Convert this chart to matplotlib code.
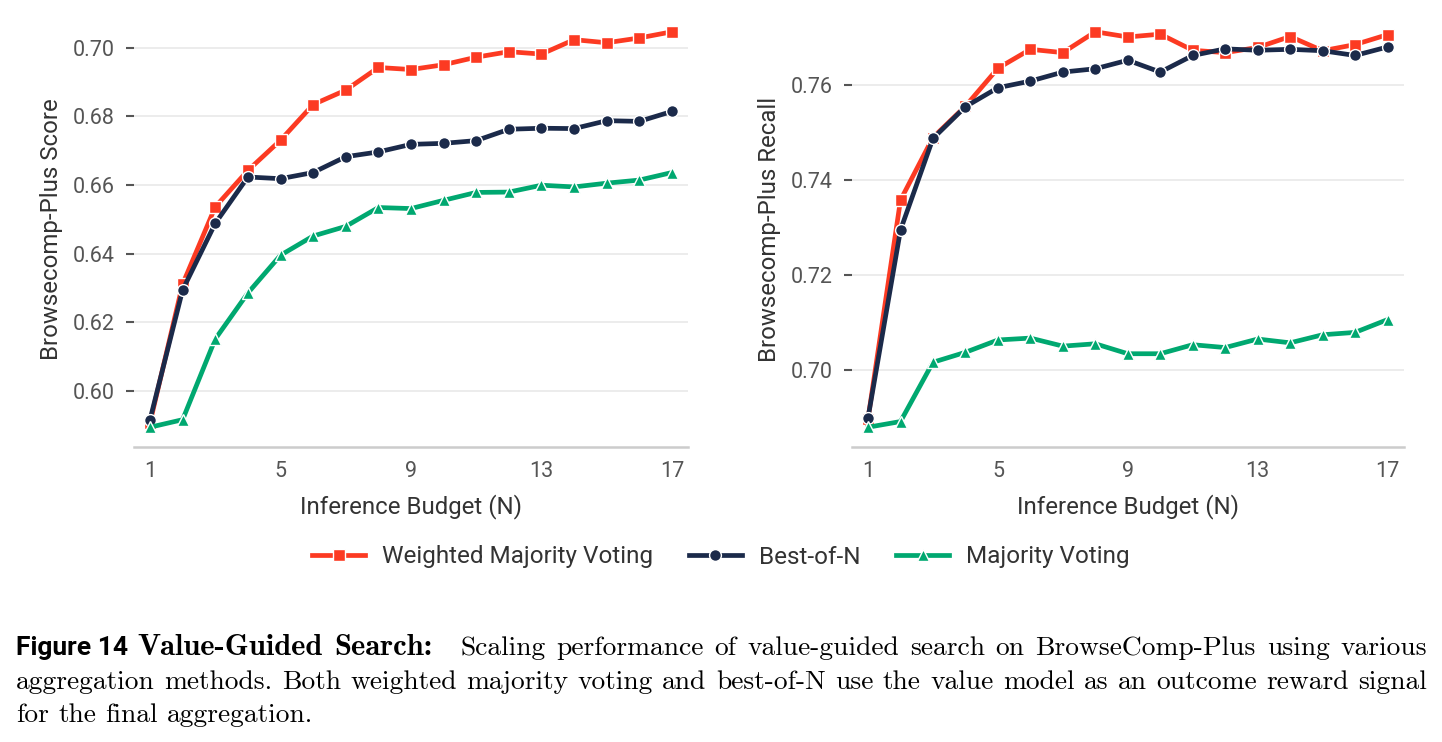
import matplotlib
matplotlib.use('Agg')
import matplotlib.pyplot as plt
from matplotlib.ticker import FormatStrFormatter
from matplotlib.font_manager import FontProperties

# Inference budget
budget = list(range(1, 18))

# Left panel: Browsecomp-Plus Score
score_weighted = [0.5907, 0.6311, 0.6536, 0.6642, 0.6730, 0.6834, 0.6876, 0.6942, 0.6936,
                  0.6950, 0.6972, 0.6988, 0.6981, 0.7023, 0.7014, 0.7028, 0.7046]
score_best = [0.5916, 0.6294, 0.6488, 0.6623, 0.6618, 0.6636, 0.6682, 0.6696, 0.6718,
              0.6721, 0.6729, 0.6762, 0.6765, 0.6764, 0.6787, 0.6785, 0.6814]
score_majority = [0.5894, 0.5916, 0.6151, 0.6285, 0.6395, 0.6451, 0.6479, 0.6534, 0.6531,
                  0.6555, 0.6578, 0.6579, 0.6599, 0.6594, 0.6605, 0.6614, 0.6636]

# Right panel: Browsecomp-Plus Recall
recall_weighted = [0.6897, 0.7358, 0.7490, 0.7556, 0.7636, 0.7676, 0.7669, 0.7713, 0.7702,
                   0.7708, 0.7674, 0.7669, 0.7680, 0.7703, 0.7673, 0.7686, 0.7707]
recall_best = [0.6899, 0.7295, 0.7488, 0.7555, 0.7595, 0.7609, 0.7628, 0.7635, 0.7653,
               0.7628, 0.7663, 0.7677, 0.7674, 0.7676, 0.7673, 0.7663, 0.7681]
recall_majority = [0.6879, 0.6891, 0.7016, 0.7037, 0.7063, 0.7067, 0.7050, 0.7055, 0.7034,
                   0.7034, 0.7053, 0.7047, 0.7065, 0.7057, 0.7074, 0.7079, 0.7106]

labels = ['Weighted Majority Voting', 'Best-of-N', 'Majority Voting']
colors = ['#fc3a22', '#1b2a4a', '#00a870']
markers = ['s', 'o', '^']
msizes = [9, 8.5, 8.5]

W, H = 1442, 742
plt.rcParams['font.family'] = ['Roboto', 'DejaVu Sans']

fig = plt.figure(figsize=(W / 100, H / 100), dpi=100)
ax1 = fig.add_axes([133.7 / W, 1 - 447 / H, 554.6 / W, 435 / H])
ax2 = fig.add_axes([851.8 / W, 1 - 447 / H, 552 / W, 435 / H])

panels = [
    (ax1, [score_weighted, score_best, score_majority], 'Browsecomp-Plus Score',
     [0.60, 0.62, 0.64, 0.66, 0.68, 0.70]),
    (ax2, [recall_weighted, recall_best, recall_majority], 'Browsecomp-Plus Recall',
     [0.70, 0.72, 0.74, 0.76]),
]

handles = []
for ax, series, ylabel, yticks in panels:
    lines = {}
    # draw best-of-N first so weighted voting sits on top
    for i in [1, 0, 2]:
        ln, = ax.plot(budget, series[i], color=colors[i], lw=3.4, marker=markers[i],
                      ms=msizes[i], mec='white', mew=1.0, label=labels[i], zorder=3 + i)
        lines[i] = ln
    if not handles:
        handles = [lines[0], lines[1], lines[2]]

    ax.set_xlim(0.5, 17.5)
    ax.set_xticks([1, 5, 9, 13, 17])
    ax.set_yticks(yticks)
    ax.yaxis.set_major_formatter(FormatStrFormatter('%.2f'))
    ax.grid(axis='y', color='#ebebeb', lw=1.3, zorder=0)
    ax.set_axisbelow(True)
    for s in ['top', 'right', 'left']:
        ax.spines[s].set_visible(False)
    ax.spines['bottom'].set_color('#cccccc')
    ax.spines['bottom'].set_linewidth(1.8)
    ax.tick_params(axis='y', length=6, width=1.5, color='#555555', pad=8,
                   labelsize=15.5, labelcolor='#555555')
    ax.tick_params(axis='x', length=0, pad=10, labelsize=15.5, labelcolor='#555555')
    ax.set_xlabel('Inference Budget (N)', fontsize=17.3, color='#333333', labelpad=9)
    ax.set_ylabel(ylabel, fontsize=17.3, color='#333333', labelpad=7)

fig.legend(handles, labels, loc='center', bbox_to_anchor=(0.5, 1 - 557 / H), ncol=3,
           frameon=False, fontsize=17.5, handlelength=2.2, handletextpad=0.7,
           columnspacing=1.45, labelcolor='#333333')

# Caption, justified like the LaTeX source
sans_b = FontProperties(family='Roboto', weight='bold', size=19)
serif_b = FontProperties(family='cmb10', size=22)
serif = FontProperties(family='cmr10', size=19.8)

fig.canvas.draw()
renderer = fig.canvas.get_renderer()


def put_words(words, x0, x1, y, props, justify=True):
    texts = [fig.text(0, 1 - y / H, w, fontproperties=props, va='baseline') for w in words]
    widths = [t.get_window_extent(renderer).width for t in texts]
    if justify and len(words) > 1:
        gap = (x1 - x0 - sum(widths)) / (len(words) - 1)
    else:
        gap = FontProperties.get_size_in_points(props) * 0.333 * 100 / 72
    x = x0
    for t, w in zip(texts, widths):
        t.set_x(x / W)
        x += w + gap


line1 = 'Scaling performance of value-guided search on BrowseComp-Plus using various'
line2 = ('aggregation methods. Both weighted majority voting and best-of-N use the value '
         'model as an outcome reward signal')
line3 = 'for the final aggregation.'

fig.text(16 / W, 1 - 655 / H, 'Figure 14', fontproperties=sans_b, va='baseline')
put_words(['Value-Guided', 'Search:'], 137, 432, 655, serif_b)
put_words(line1.split(), 460, 1427, 655, serif)
put_words(line2.split(), 16, 1427, 689, serif)
put_words(line3.split(), 16, 1427, 722, serif, justify=False)

fig.savefig('out.png', dpi=100)
